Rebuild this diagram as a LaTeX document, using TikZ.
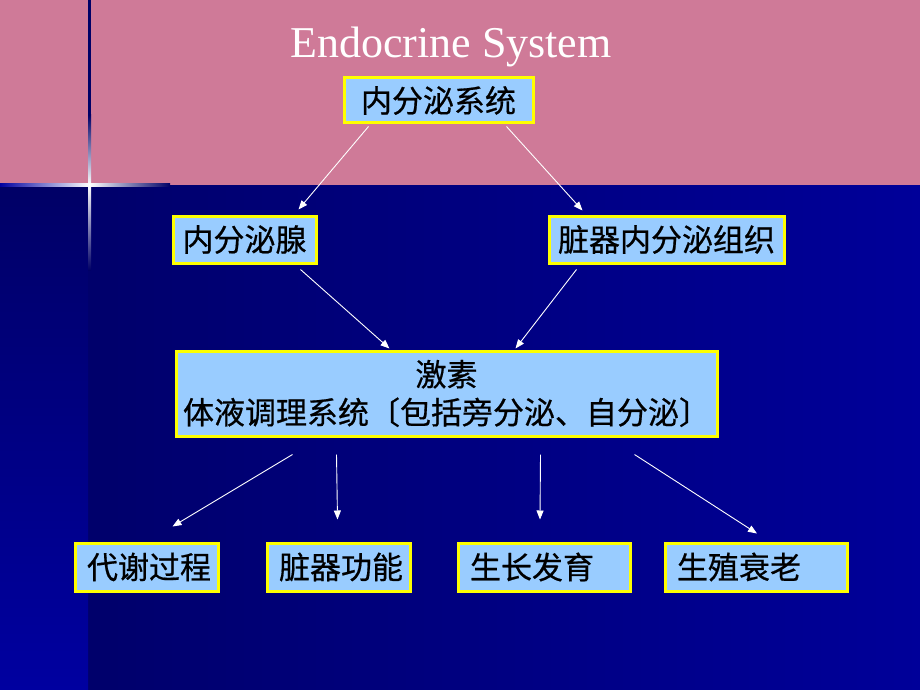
\documentclass[tikz,border=0pt]{standalone}
\usepackage{fontspec}
\setmainfont{Liberation Serif}
\newfontfamily\cjk[FakeBold=0.6]{Noto Sans CJK SC}
\usetikzlibrary{arrows.meta}
\definecolor{pinkband}{HTML}{CF7A98}
\definecolor{navy}{HTML}{000066}
\definecolor{deepblue}{HTML}{000099}
\definecolor{stripblue}{HTML}{0000A0}
\definecolor{boxfill}{HTML}{99CCFF}
\definecolor{boxline}{HTML}{FFFF00}
\tikzset{
  box/.style={rectangle,draw=boxline,fill=boxfill,line width=3pt,inner sep=0pt,
    font=\cjk\fontsize{31pt}{38pt}\selectfont,text=black},
  leftbox/.style={box,inner xsep=12pt,align=left,minimum height=48pt},
  arr/.style={-{Triangle[length=9pt,width=7pt]},draw=white,line width=0.9pt}
}
\begin{document}
\begin{tikzpicture}[x=1pt,y=-1pt]
	\useasboundingbox (0,0) rectangle (920,690);
	% background
	\shade[left color=navy,right color=deepblue] (0,185) rectangle (920,690);
	\shade[top color=navy,bottom color=stripblue] (0,185) rectangle (88,690);
	\fill[pinkband] (0,0) rectangle (920,185);
	\fill[navy] (88,0) rectangle (91,115);
	\shade[top color=navy,bottom color=white] (88,115) rectangle (91,185);
	\shade[top color=white,bottom color=navy] (88,185) rectangle (91,270);
	\shade[left color=stripblue,right color=white] (0,183.5) rectangle (89.5,186.5);
	\shade[left color=white,right color=navy] (89.5,183.5) rectangle (170,186.5);
	
	\node[text=white,font=\fontsize{44pt}{50pt}\selectfont] (Title) at (451,47) {Endocrine System};
	
	\node[box,minimum width=189pt,minimum height=45pt] (System) at (438.5,100.5) {内分泌系统};
	\node[box,minimum width=143pt,minimum height=47pt] (Gland) at (244.5,239.5) {内分泌腺};
	\node[box,minimum width=235pt,minimum height=47pt] (Organ) at (666.5,239.5) {脏器内分泌组织};
	\node[box,minimum width=541pt,minimum height=85pt,align=center] (Hormone) at (446.5,393.5)
		{激素\\体液调理系统〔包括旁分泌、自分泌〕};
	\node[leftbox,text width=119pt] (Metab) at (146.5,567) {代谢过程};
	\node[leftbox,text width=119pt] (Func) at (338.5,567) {脏器功能};
	\node[leftbox,text width=148pt] (Growth) at (544,567) {生长发育};
	\node[leftbox,text width=158pt] (Repro) at (756,567) {生殖衰老};
	
	\draw[arr] ([xshift=26pt,yshift=-2pt]System.south west) -- ([xshift=54pt,yshift=5pt]Gland.north);
	\draw[arr] ([xshift=-28pt,yshift=-2pt]System.south east) -- ([xshift=-84pt,yshift=4pt]Organ.north);
	\draw[arr] ([xshift=56pt,yshift=-5pt]Gland.south) -- ([xshift=-57pt,yshift=1pt]Hormone.north);
	\draw[arr] ([xshift=-90pt,yshift=-5pt]Organ.south) -- ([xshift=69pt,yshift=1pt]Hormone.north);
	\draw[arr] ([xshift=-154pt,yshift=-17pt]Hormone.south) -- ([xshift=26pt,yshift=15pt]Metab.north);
	\draw[arr] ([xshift=-110pt,yshift=-17pt]Hormone.south) -- ([xshift=-1pt,yshift=22pt]Func.north);
	\draw[arr] ([xshift=94pt,yshift=-17pt]Hormone.south) -- ([xshift=-4pt,yshift=22pt]Growth.north);
	\draw[arr] ([xshift=188pt,yshift=-17pt]Hormone.south) -- ([xshift=1pt,yshift=8pt]Repro.north);
\end{tikzpicture}
\end{document}
